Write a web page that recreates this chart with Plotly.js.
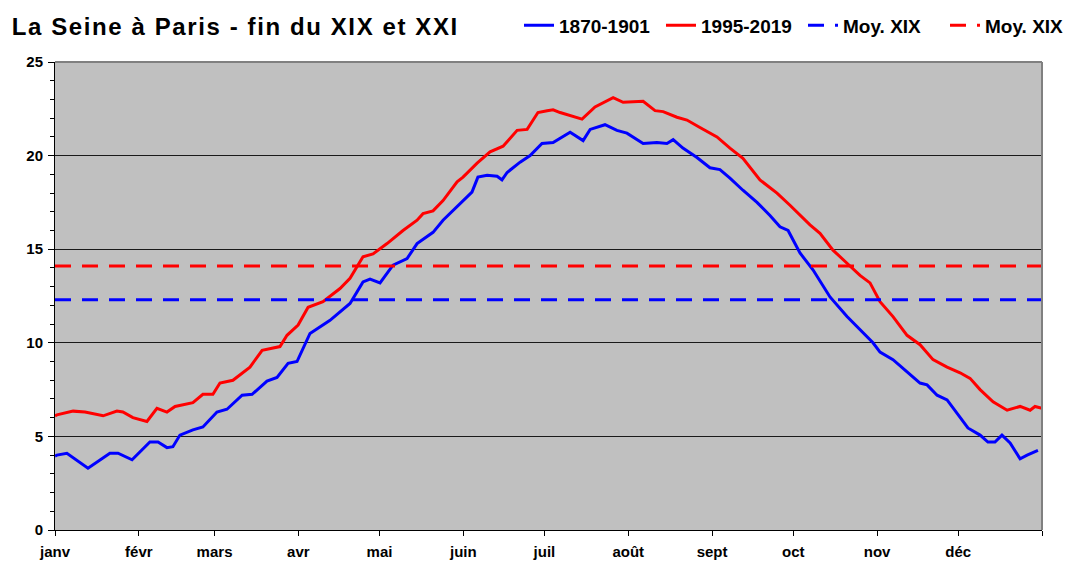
<!DOCTYPE html>
<html>
<head>
<meta charset="utf-8">
<script src="https://cdn.plot.ly/plotly-3.0.1.min.js"></script>
<style>
html,body{margin:0;padding:0;background:#fff;}
#chart{width:1069px;height:563px;}
#chart .gtitle{letter-spacing:1.6px;}
</style>
</head>
<body>
<div id="chart"></div>
<script>
// Month boundaries (day of year) and labels
const monthStarts = [0,31,59,90,120,151,181,212,243,273,304,334,365];
const monthLabels = ["janv","févr","mars","avr","mai","juin","juil","août","sept","oct","nov","déc",""];

// 1870-1901 series: day of year and temperature (°C)
const daysXIX = [0,0.7,4.4,12.2,20.3,23.3,28.5,35.1,38.1,41.4,43.6,46.2,51.0,54.7,59.9,63.6,69.2,72.9,78.4,82.1,86.2,89.5,94.3,101.7,109.1,113.9,116.5,120.2,125.0,130.2,133.9,139.8,143.5,147.2,154.2,156.4,159.8,163.5,165.3,167.2,172.0,175.7,180.1,184.2,190.5,195.3,197.9,203.4,207.8,211.5,217.5,222.6,226.3,228.6,232.2,237.4,242.2,245.9,249.6,254.4,259.6,264.4,268.1,271.1,275.5,280.3,286.6,292.9,297.7,302.5,305.1,309.9,315.1,319.9,322.5,326.2,329.9,333.6,337.6,342.1,345.0,347.6,350.2,353.2,356.9,359.5,363.5];
const tempXIX = [3.95,4.0,4.1,3.3,4.1,4.1,3.75,4.7,4.7,4.4,4.45,5.07,5.35,5.5,6.3,6.45,7.2,7.25,7.95,8.15,8.9,9.0,10.5,11.2,12.1,13.25,13.4,13.2,14.15,14.5,15.3,15.9,16.55,17.05,18.05,18.85,18.95,18.9,18.7,19.1,19.65,20.0,20.65,20.7,21.25,20.8,21.4,21.65,21.35,21.2,20.65,20.7,20.65,20.85,20.4,19.9,19.35,19.25,18.8,18.15,17.5,16.8,16.2,16.0,14.8,13.9,12.45,11.4,10.7,10.0,9.5,9.1,8.45,7.85,7.75,7.2,6.95,6.25,5.45,5.07,4.7,4.7,5.07,4.65,3.8,4.0,4.25];

// 1995-2019 series
const daysXXI = [0,0.7,6.7,11.1,17.8,22.9,25.1,28.8,34.0,37.7,41.4,44.4,51.0,54.7,58.4,61.0,65.8,72.1,76.6,80.6,83.2,85.8,89.9,93.6,99.1,105.4,109.1,113.9,117.6,122.8,128.7,133.9,136.1,139.8,143.5,148.7,150.9,156.1,160.9,165.7,170.9,174.6,178.6,182.0,184.2,186.8,191.6,194.9,199.7,206.4,210.1,217.5,221.9,224.9,230.0,233.7,238.5,244.8,249.6,254.4,260.7,267.0,271.8,279.2,282.9,287.7,292.9,297.7,301.4,305.1,309.9,315.1,319.9,324.7,329.9,334.7,338.4,342.1,346.9,352.1,356.9,360.6,362.4,365];
const tempXXI = [6.1,6.15,6.35,6.3,6.1,6.35,6.3,6.0,5.8,6.5,6.3,6.6,6.8,7.25,7.25,7.85,8.0,8.7,9.6,9.7,9.8,10.4,10.95,11.9,12.2,12.9,13.45,14.6,14.75,15.3,16.0,16.55,16.9,17.05,17.6,18.6,18.85,19.6,20.2,20.5,21.35,21.4,22.3,22.4,22.45,22.3,22.1,21.95,22.6,23.1,22.85,22.9,22.4,22.35,22.05,21.9,21.5,21.0,20.4,19.85,18.7,18.0,17.35,16.3,15.85,14.95,14.25,13.6,13.2,12.2,11.4,10.4,9.9,9.1,8.7,8.4,8.1,7.5,6.85,6.4,6.6,6.4,6.6,6.5];

// Means
const meanXIX = 12.3;
const meanXXI = 14.1;

const seriesNames = ["1870-1901","1995-2019","Moy. XIX","Moy. XIX"];

const font = "Liberation Sans, Arial, sans-serif";

const traces = [
  {x: daysXIX, y: tempXIX, name: seriesNames[0], mode: "lines", line: {color: "#0000FF", width: 3}},
  {x: daysXXI, y: tempXXI, name: seriesNames[1], mode: "lines", line: {color: "#FF0000", width: 3}},
  {x: [0, 365], y: [meanXIX, meanXIX], name: seriesNames[2], mode: "lines", line: {color: "#0000FF", width: 3, dash: "16px,11px"}},
  {x: [0, 365], y: [meanXXI, meanXXI], name: seriesNames[3], mode: "lines", line: {color: "#FF0000", width: 3, dash: "16px,11px"}}
];

const layout = {
  width: 1069, height: 563,
  margin: {l: 55, r: 27, t: 62, b: 33},
  paper_bgcolor: "#FFFFFF",
  plot_bgcolor: "#C0C0C0",
  font: {family: font, color: "#000", size: 14},
  title: {text: "<b>La Seine à Paris - fin du XIX et XXI</b>", x: 0.011, xanchor: "left", xref: "container", y: 0.953, yanchor: "middle", yref: "container", font: {family: font, size: 24, color: "#000"}},
  showlegend: true,
  legend: {orientation: "h", x: 0.4855, xref: "container", xanchor: "left", y: 0.955, yref: "container", yanchor: "middle", bgcolor: "rgba(0,0,0,0)", font: {family: font, size: 19, color: "#000", weight: "bold"}, itemwidth: 30, entrywidth: 97, entrywidthmode: "pixels", tracegroupgap: 0, traceorder: "normal"},
  xaxis: {
    range: [0, 365], tickmode: "array", tickvals: monthStarts, ticktext: monthLabels,
    showgrid: false, zeroline: false, showline: true, linecolor: "#000", linewidth: 1,
    ticks: "outside", ticklen: 5, tickcolor: "#000", tickwidth: 1,
    tickfont: {family: font, size: 15, color: "#000", weight: "bold"}, ticklabelstandoff: 3, fixedrange: true
  },
  yaxis: {
    range: [0, 25], tickmode: "linear", tick0: 0, dtick: 5,
    showgrid: true, gridcolor: "#1a1a1a", gridwidth: 1.2, zeroline: false,
    showline: true, linecolor: "#000", linewidth: 1,
    ticks: "outside", ticklen: 6, tickcolor: "#000", tickwidth: 1,
    minor: {dtick: 1, tick0: 0, ticks: "outside", ticklen: 4, tickcolor: "#000", showgrid: false},
    tickfont: {family: font, size: 15, color: "#000", weight: "bold"}, ticklabelstandoff: 2, fixedrange: true
  },
  shapes: [
    {type: "line", xref: "paper", yref: "paper", x0: 0, x1: 1, y0: 1, y1: 1, line: {color: "#808080", width: 2}},
    {type: "line", xref: "paper", yref: "paper", x0: 1, x1: 1, y0: 0, y1: 1, line: {color: "#808080", width: 2}}
  ]
};

Plotly.newPlot("chart", traces, layout, {staticPlot: true, displayModeBar: false});
</script>
</body>
</html>
